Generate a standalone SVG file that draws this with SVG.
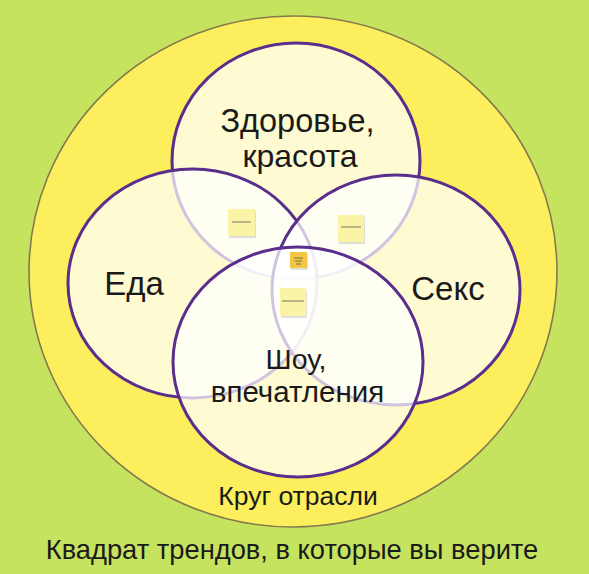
<svg xmlns="http://www.w3.org/2000/svg" width="589" height="574" viewBox="0 0 589 574">
<style>
.venn{fill:#ffffff;fill-opacity:0.72;stroke:#5a2e8c;stroke-width:3}
.lbl{font-family:"Liberation Sans",Arial,sans-serif;fill:#1a1a1a;text-anchor:middle}
.note{fill:#fbf3a6}
.shadow{fill:#000;opacity:0.12}
.scrib{stroke:#555;stroke-width:0.8}
</style>
<rect x="0" y="0" width="589" height="574" fill="#c6e35f"/>
<g id="industry">
<ellipse cx="293" cy="271.5" rx="264" ry="255.5" fill="#fcee5c" stroke="#857a4e" stroke-width="1.6"/>
<text class="lbl" x="298" y="505" font-size="26.5">Круг отрасли</text>
</g>
<g id="health">
<ellipse class="venn" cx="296" cy="161" rx="124" ry="118"/>
</g>
<g id="food">
<ellipse class="venn" cx="192.5" cy="283.5" rx="124.5" ry="114.5"/>
</g>
<g id="sex">
<ellipse class="venn" cx="396" cy="290" rx="124" ry="115"/>
</g>
<g id="show">
<ellipse class="venn" cx="298" cy="362" rx="125" ry="115"/>
</g>
<g id="labels">
<text class="lbl" x="297.5" y="132" font-size="32.5">Здоровье,</text>
<text class="lbl" x="300" y="167" font-size="32">красота</text>
<text class="lbl" x="134" y="295" font-size="33">Еда</text>
<text class="lbl" x="448" y="300" font-size="33">Секс</text>
<text class="lbl" x="296" y="369" font-size="28.5">Шоу,</text>
<text class="lbl" x="297.5" y="402" font-size="29.5">впечатления</text>
</g>
<g id="notes">
<g id="note1"><rect class="shadow" x="229" y="211" width="27" height="27"/><rect class="note" x="228" y="209" width="27" height="27"/><line class="scrib" x1="232" y1="222" x2="251" y2="222"/></g>
<g id="note2"><rect class="shadow" x="339" y="217" width="26" height="27"/><rect class="note" x="338" y="215" width="26" height="27"/><line class="scrib" x1="341" y1="227" x2="361" y2="227"/></g>
<g id="note3"><rect class="shadow" x="291" y="254" width="17" height="16"/><rect x="290" y="252" width="17" height="16" fill="#f4c642"/><line class="scrib" x1="294" y1="258" x2="303" y2="258"/><line class="scrib" x1="295" y1="261" x2="302" y2="261"/><line class="scrib" x1="296" y1="264" x2="301" y2="264"/></g>
<g id="note4"><rect class="shadow" x="281" y="290" width="26" height="28"/><rect class="note" x="280" y="288" width="26" height="28"/><line class="scrib" x1="282" y1="301" x2="304" y2="301"/></g>
</g>
<text class="lbl" x="292" y="559" font-size="27.3">Квадрат трендов, в которые вы верите</text>
</svg>
